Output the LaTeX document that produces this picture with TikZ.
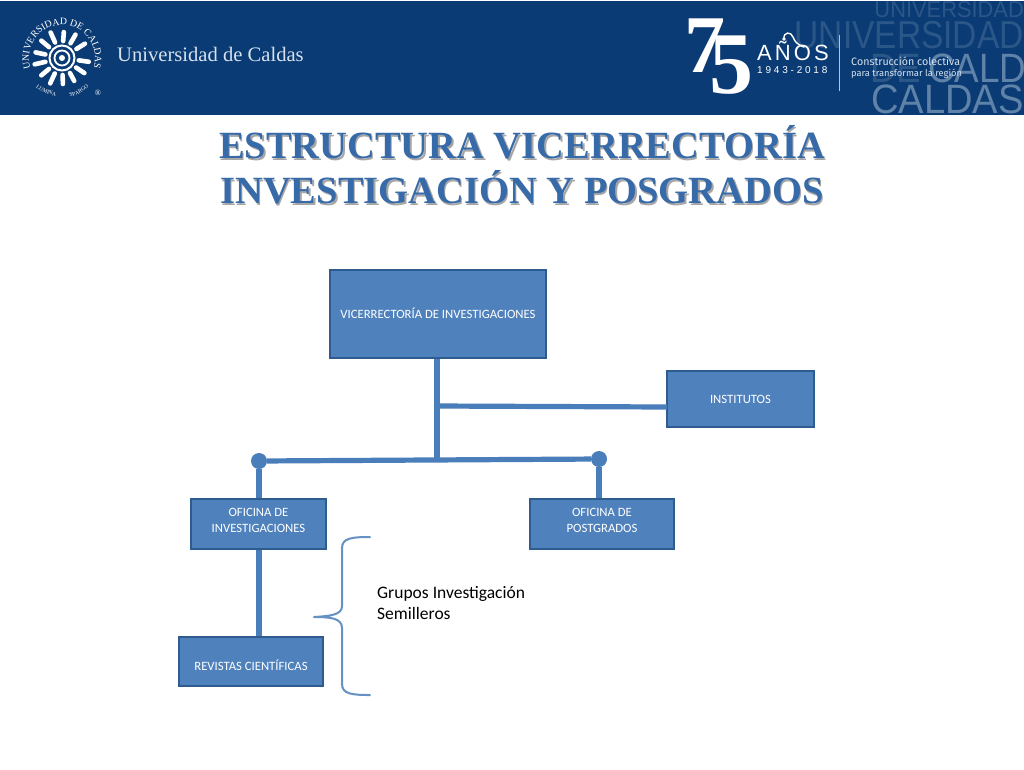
\documentclass[tikz,border=0pt]{standalone}
\usepackage{fontspec}
\setmainfont{Liberation Serif}
\newfontfamily\carl{Carlito}
\newfontfamily\ghost{Liberation Sans}
\newfontfamily\fira{Fira Sans}
\usetikzlibrary{decorations.text}
\definecolor{hdr}{HTML}{0B3B74}
\definecolor{boxf}{HTML}{4F81BD}
\definecolor{boxd}{HTML}{2F5C8F}
\definecolor{conn}{HTML}{4A7EBB}
\definecolor{titlec}{HTML}{376AA8}
\definecolor{ghosta}{HTML}{2A5688}
\definecolor{ghostb}{HTML}{5E82A8}
\definecolor{slog}{HTML}{D6E2EE}
\newcommand{\bxl}[2][0pt]{\raisebox{#1}[0pt][0pt]{#2}}
\tikzset{
  orgbox/.style={draw=boxd,line width=1.6pt,fill=boxf,text=white,font=\carl\fontsize{12.7}{16}\selectfont,align=center,inner sep=0pt},
  link/.style={draw=conn,line width=5.2pt},
  dot/.style={circle,fill=conn,minimum size=16pt,inner sep=0pt},
  ttl/.style={font=\fontsize{38.5}{45}\selectfont\bfseries,align=center,inner sep=0pt},
  ray/.style={draw=white,line width=4.6pt,line cap=round},
  ghostt/.style={inner sep=0pt,anchor=base east},
}
\begin{document}
\begin{tikzpicture}[x=1pt,y=-1pt]
\useasboundingbox (0,0) rectangle (1024,769);
\fill[white] (0,0) rectangle (1024,769);
\fill[hdr] (0,1) rectangle (1024,115);
% ghost lettering
\begin{scope}
\clip (0,0) rectangle (1024,115);
\node[ghostt,text=ghosta,font=\ghost\fontsize{23}{23}\selectfont] (g1) at (1024,17) {\scalebox{.95}[1]{UNIVERSIDAD}};
\node[ghostt,text=ghosta,font=\ghost\fontsize{39}{39}\selectfont] (g2) at (1024,48) {\scalebox{.86}[1]{UNIVERSIDAD}};
\node[ghostt,text=ghosta,font=\ghost\fontsize{41}{41}\selectfont,anchor=base west] (g3a) at (870,82) {\scalebox{.9}[1]{DE}};
\node[ghostt,text=ghostb,font=\ghost\fontsize{41}{41}\selectfont,anchor=base west] (g3b) at (928,82) {\scalebox{.9}[1]{CALD}};
\node[ghostt,text=ghostb,font=\ghost\fontsize{41}{41}\selectfont] (g4) at (1024,113) {\scalebox{.93}[1]{CALDAS}};
\end{scope}
% university seal
\coordinate (sun) at (62,58);
\foreach \a/\l in {8/27,34/27,62/26,88/26,115/28,140/27,167/28,192/27,220/27,246/28,274/26,300/27,328/27}{
  \draw[ray] ([shift={(\a:17)}]sun) -- ([shift={(\a:\l)}]sun);
}
\draw[white,line width=2pt] (sun) circle (12.5);
\draw[white,line width=1.8pt] (sun) circle (7.5);
\fill[white] (sun) circle (3);
\path[decorate,decoration={text along path,text align=center,
  text={|\fontsize{9.8}{9.8}\selectfont\color{white}|UNIVERSIDAD DE CALDAS}}]
  ([shift={(150:33)}]sun) arc[start angle=150,end angle=390,radius=33];
\path[decorate,decoration={text along path,text align=center,
  text={|\fontsize{5.5}{5.5}\selectfont\color{white}|LUMINA}}]
  (33,84) .. controls (38,90) and (48,95) .. (60,97);
\path[decorate,decoration={text along path,text align=center,
  text={|\fontsize{5.5}{5.5}\selectfont\color{white}|SPARGO}}]
  (68,97) .. controls (76,96) and (84,92) .. (90,85);
\node[text=white,font=\fontsize{8}{8}\selectfont,inner sep=0pt] (reg) at (98,93) {®};
\node[text=slog,font=\fontsize{20.6}{22}\selectfont,anchor=base west,inner sep=0pt] (ud) at (117,61) {Universidad de Caldas};
% anniversary
\node[text=white,font=\fontsize{82}{82}\selectfont\bfseries,inner sep=0pt,anchor=base] (siete) at (705,72) {7};
\node[text=white,font=\fontsize{88}{88}\selectfont\bfseries,inner sep=0pt,anchor=base] (cinco) at (731,93) {5};
\node[text=white,font=\ghost\fontsize{22}{22}\selectfont\addfontfeatures{LetterSpace=14},inner sep=0pt,anchor=base west] (anos) at (757,60) {AÑOS};
\draw[white,line width=1.4pt,line cap=round] (784,39) .. controls (783,32) and (791,31) .. (793,37) .. controls (795,43) and (799,45) .. (804,47);
\fill[white] (784,39) circle (1.8);
\node[text=white,font=\ghost\fontsize{10}{10}\selectfont\addfontfeatures{LetterSpace=28},inner sep=0pt,anchor=base west] (anio) at (757,73) {1943-2018};
\draw[white!70!hdr,line width=.8pt] (839,35) -- (839,91);
\node[text=slog,font=\fira\fontsize{10.7}{11}\selectfont,inner sep=0pt,anchor=base west] (c1) at (851,65) {Construcción colectiva};
\node[text=slog,font=\fira\fontsize{9.3}{11}\selectfont,inner sep=0pt,anchor=base west] (c2) at (851,76) {para transformar la región};
% title
\node[ttl,text=black!35] (tsh) at (523.5,166.5) {ESTRUCTURA VICERRECTORÍA\\INVESTIGACIÓN Y POSGRADOS};
\node[ttl,text=titlec] (title) at (522,165) {ESTRUCTURA VICERRECTORÍA\\INVESTIGACIÓN Y POSGRADOS};
% junctions
\node[dot] (dl) at (259,461) {};
\node[dot] (dr) at (599,459) {};
\coordinate (jm) at (437,460);
\coordinate (ji) at (437,406);
\coordinate (jr) at (667,407);
\node[orgbox,minimum width=216pt,minimum height=88pt] (vic) at (438,314) {\bxl[-4pt]{VICERRECTORÍA DE INVESTIGACIONES}};
\node[orgbox,minimum width=147pt,minimum height=56pt] (inst) at (740.5,399) {INSTITUTOS};
\node[orgbox,minimum width=135pt,minimum height=50pt] (ofi) at (258.5,524) {\bxl{OFICINA DE}\\\bxl{INVESTIGACIONES}};
\node[orgbox,minimum width=144pt,minimum height=50pt] (ofp) at (602,524) {\bxl{OFICINA DE}\\\bxl{POSTGRADOS}};
\node[orgbox,minimum width=144pt,minimum height=49pt] (rev) at (251,661.5) {\bxl[-8.5pt]{REVISTAS CIENTÍFICAS}};
\draw[link] (vic.south -| jm) -- (jm);
\draw[link] (ji) -- (jr);
\draw[link] (dl) -- (dr);
\draw[link] (dl) -- (dl |- ofi.north);
\draw[link] (dr) -- (dr |- ofp.north);
\draw[link] (dl |- ofi.south) -- (dl |- rev.north);
% brace
\draw[draw=conn!85!white,line width=2pt,line cap=round]
  (370,537) .. controls (352,537) and (342,538) .. (342,548)
  -- (342,606) .. controls (342,615) and (330,616) .. (314,617)
  (314,617) .. controls (330,617) and (342,618) .. (342,628)
  -- (342,684) .. controls (342,694) and (352,695) .. (370,695);
\node[font=\carl\fontsize{17.5}{21}\selectfont,align=left,anchor=north west,inner sep=0pt] (grp) at (377,586) {Grupos Investigación\\Semilleros};
\end{tikzpicture}
\end{document}
